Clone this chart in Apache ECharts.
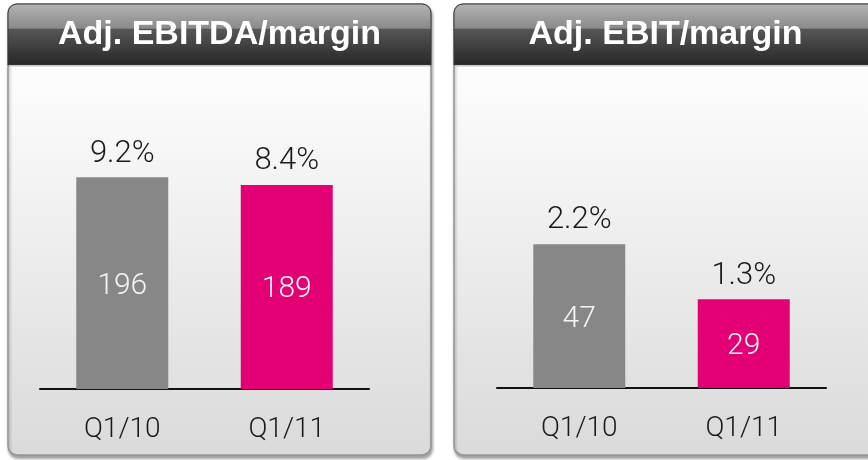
<!DOCTYPE html>
<html>
<head>
<meta charset="utf-8">
<script src="https://cdn.jsdelivr.net/npm/echarts@6/dist/echarts.min.js"></script>
<style>
  html, body { margin: 0; padding: 0; background: #fff; }
  #chart { width: 868px; height: 460px; }
</style>
</head>
<body>
<div id="chart"></div>
<script>
  // data
  var categories = ['Q1/10', 'Q1/11'];
  var ebitdaValues = [196, 189];
  var ebitdaMargins = ['9.2%', '8.4%'];
  var ebitValues = [47, 29];
  var ebitMargins = ['2.2%', '1.3%'];
  var titles = ['Adj. EBITDA/margin', 'Adj. EBIT/margin'];
  var barColors = ['#878787', '#e20074'];

  var chart = echarts.init(document.getElementById('chart'));

  // panel background (header + body) at x
  function panel(x, title) {
    var w = 423;
    return [
      {
        type: 'rect', z: -10,
        shape: {x: x, y: 4, width: w, height: 451, r: 9},
        style: {
          fill: new echarts.graphic.LinearGradient(0, 0, 0, 1, [
            {offset: 0, color: '#ffffff'},
            {offset: 0.2, color: '#fbfbfb'},
            {offset: 1, color: '#dadada'}
          ]),
          stroke: '#959595', lineWidth: 1.5,
          shadowBlur: 3, shadowOffsetY: 3, shadowOffsetX: 1, shadowColor: 'rgba(0,0,0,0.35)'
        }
      },
      {
        type: 'rect', z: -9,
        shape: {x: x, y: 4, width: w, height: 61, r: [9, 9, 0, 0]},
        style: {
          fill: new echarts.graphic.LinearGradient(0, 0, 0, 1, [
            {offset: 0, color: '#b4b4b4'},
            {offset: 0.4, color: '#8a8a8a'},
            {offset: 0.41, color: '#575757'},
            {offset: 1, color: '#262626'}
          ]),
          stroke: '#3a3a3a', lineWidth: 1
        }
      },
      {
        type: 'rect', z: -8,
        shape: {x: x + 1, y: 65, width: w - 2, height: 1.5},
        style: {fill: '#c8c8c8'}
      },
      {
        type: 'text', z: -7,
        x: x + w / 2, y: 35,
        style: {
          text: title,
          fill: '#ffffff',
          font: 'bold 34px "Liberation Sans", Arial, sans-serif',
          textAlign: 'center',
          textVerticalAlign: 'middle'
        }
      }
    ];
  }

  function xAxis(gridIndex) {
    return {
      type: 'category', gridIndex: gridIndex, data: categories,
      axisLine: {lineStyle: {color: '#111', width: 2}},
      axisTick: {show: false},
      axisLabel: {
        color: '#1a1a1a', fontSize: 28, margin: 27,
        fontFamily: 'Roboto', fontWeight: 300
      }
    };
  }

  function yAxis(gridIndex, max) {
    return {
      type: 'value', gridIndex: gridIndex, min: 0, max: max,
      show: false, splitLine: {show: false}
    };
  }

  function valueSeries(idx, values) {
    return {
      type: 'bar', xAxisIndex: idx, yAxisIndex: idx,
      data: values, barWidth: 92, silent: true,
      itemStyle: {color: function (p) { return barColors[p.dataIndex]; }},
      label: {
        show: true, position: 'inside', offset: [0, 3], color: '#f4f4f4',
        fontSize: 30, fontFamily: 'Roboto', fontWeight: 300
      }
    };
  }

  function marginSeries(idx, values, margins) {
    return {
      type: 'bar', xAxisIndex: idx, yAxisIndex: idx,
      data: values, barWidth: 92, barGap: '-100%', silent: true,
      itemStyle: {color: 'rgba(0,0,0,0)'},
      label: {
        show: true, position: 'top', distance: 8, color: '#1a1a1a',
        fontSize: 31, fontFamily: 'Roboto', fontWeight: 300,
        formatter: function (p) { return margins[p.dataIndex]; }
      }
    };
  }

  var option = {
    animation: false,
    backgroundColor: '#ffffff',
    graphic: panel(8, titles[0]).concat(panel(454, titles[1])),
    grid: [
      {left: 40, top: 65, width: 329, height: 324},
      {left: 497, top: 82, width: 329, height: 306}
    ],
    xAxis: [xAxis(0), xAxis(1)],
    yAxis: [yAxis(0, 300), yAxis(1, 100)],
    series: [
      valueSeries(0, ebitdaValues),
      marginSeries(0, ebitdaValues, ebitdaMargins),
      valueSeries(1, ebitValues),
      marginSeries(1, ebitValues, ebitMargins)
    ]
  };

  chart.setOption(option);
</script>
</body>
</html>
